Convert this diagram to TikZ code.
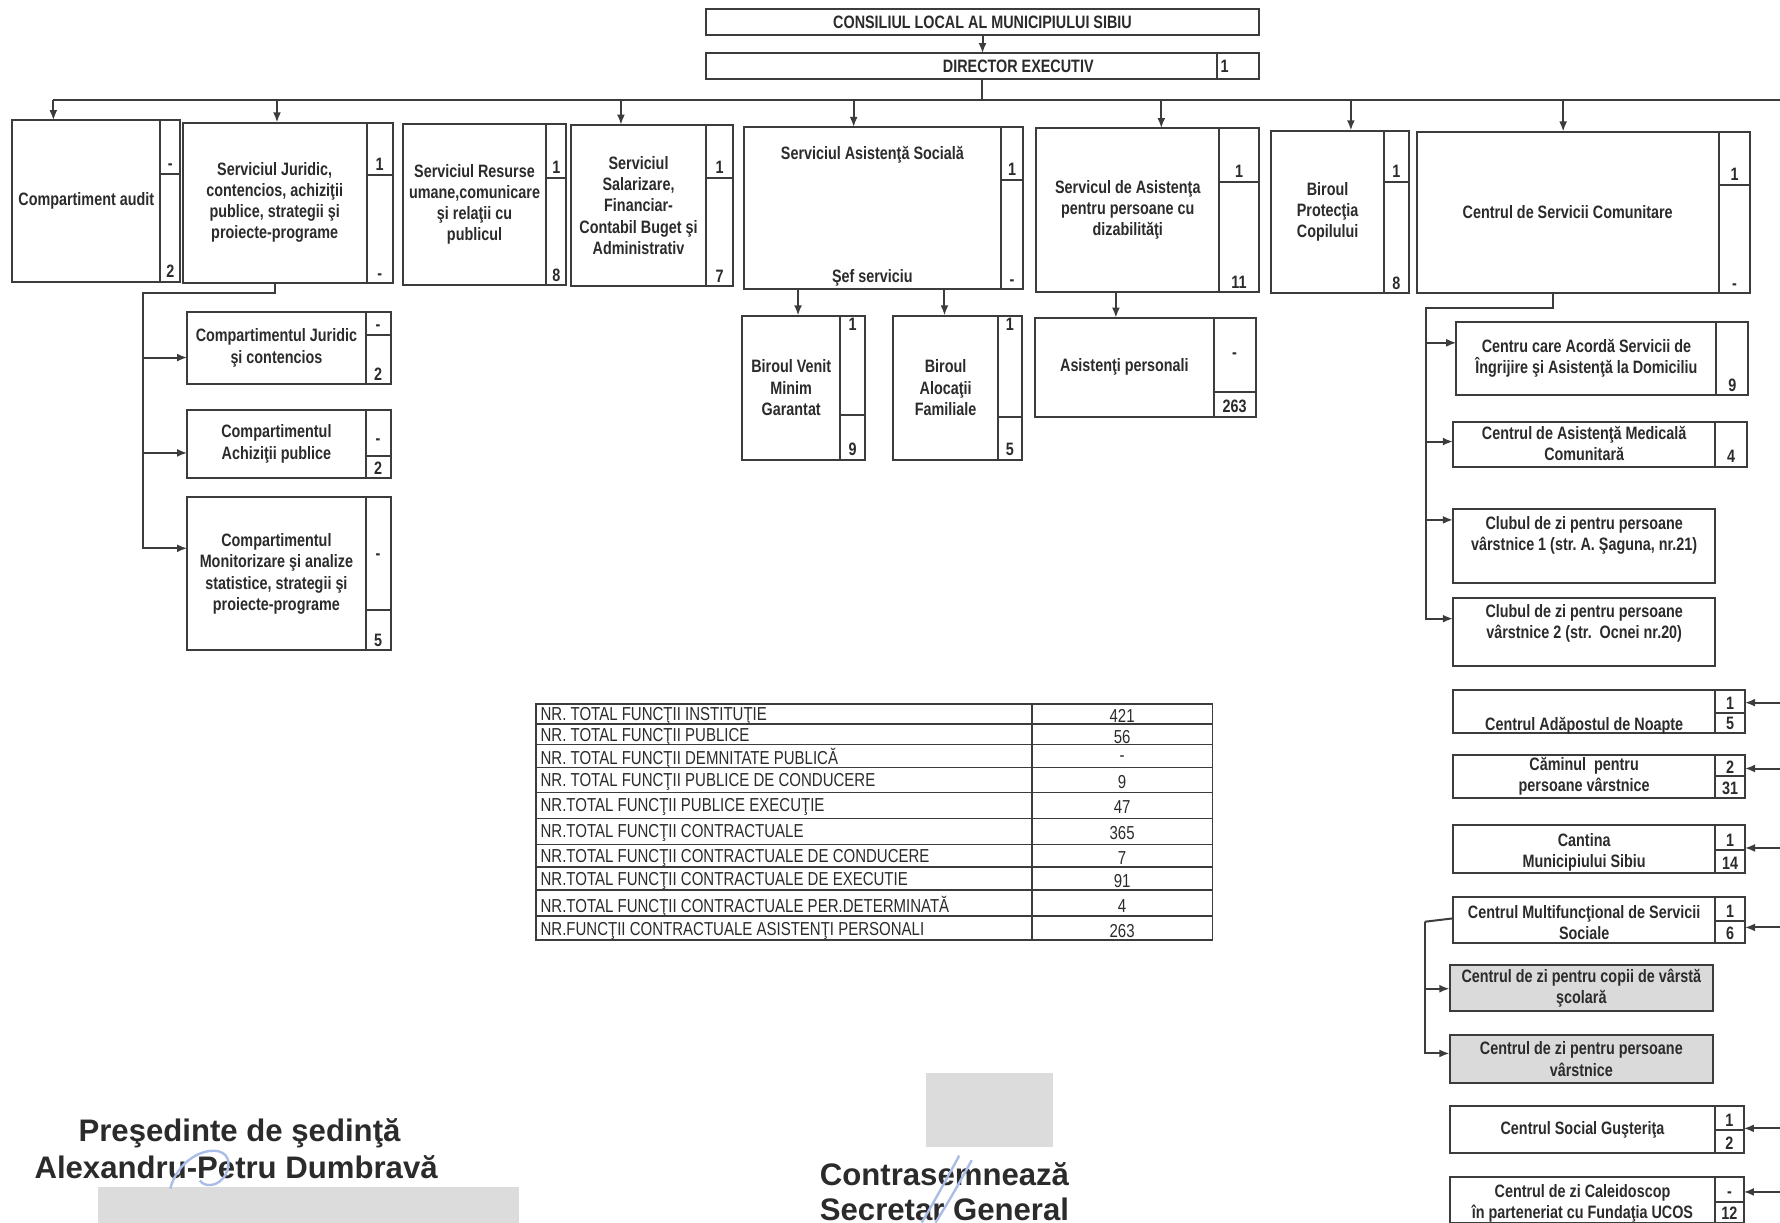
\documentclass[tikz,border=0pt]{standalone}
\usepackage{fontspec}
\setmainfont{Liberation Sans}
\newfontfamily\etroit{Liberation Sans}[FakeStretch=0.8]
\usetikzlibrary{arrows.meta,fit}
\definecolor{encre}{HTML}{2B2B2B}
\definecolor{gristrait}{HTML}{3C3C3C}
\definecolor{masque}{HTML}{DCDCDC}
\definecolor{ombre}{HTML}{DADADA}
\definecolor{stylo}{HTML}{A9BDE6}
\frenchspacing

\begin{document}
\begin{tikzpicture}[x=0.01cm, y=-0.01cm,
    texte/.style={inner sep=0pt, outer sep=0pt, align=center, text=encre, font=\etroit\bfseries\fontsize{4.5}{5.3}\selectfont},
    boite/.style={draw=gristrait, line width=0.5pt, inner sep=0pt, outer sep=0pt},
    nombre/.style={inner sep=0.7pt, text=encre, font=\etroit\bfseries\fontsize{4.5}{5.3}\selectfont},
    tabtexte/.style={inner sep=1pt, text=encre, font=\etroit\fontsize{4.7}{5.3}\selectfont},
    signature/.style={inner sep=0pt, text=encre, font=\bfseries\fontsize{7.8}{9}\selectfont},
    ligne/.style={draw=gristrait, line width=0.5pt},
    fleche/.style={ligne, -{Latex[length=0.9mm,width=0.7mm]}}]
    \useasboundingbox (0,0) rectangle (1568,1077);

    % Consiliul local et directeur executiv
    \node[boite, fit={(622,8) (1109,31)}] (cons) {};
    \node[texte] (consT) at (cons) {CONSILIUL LOCAL AL MUNICIPIULUI SIBIU};
    \node[boite, fit={(622,47) (1072,70)}] (dir) {};
    \node[texte] (dirT) at (897,58.5) {DIRECTOR EXECUTIV};
    \node[boite, fit={(1072,47) (1109,70)}] (dirN) {};
    \node[nombre, anchor=west] (dirN-sus) at (dirN.west) {1};
    \draw[fleche] (cons.south) -- (cons.south |- dir.north);

    % Ligne de distribution
    \coordinate (busC) at (865,88);
    \coordinate (busG) at (47,88);
    \coordinate (busD) at (1568,88);
    \draw[ligne] (dir.south -| busC) -- (busC);
    \draw[ligne] (busG) -- (busD);

    % Premiere rangee de services
    \node[boite, fit={(11,106) (141,248)}] (audit) {};
    \node[texte] (auditT) at (audit) {Compartiment audit};
    \node[boite, fit={(141,106) (159,248)}] (auditN) {};
    \node[boite, fit={(161,108) (323,249)}] (jur) {};
    \node[texte] (jurT) at (jur) {Serviciul Juridic,\\contencios, achiziţii\\publice, strategii şi\\proiecte-programe};
    \node[boite, fit={(323,108) (346,249)}] (jurN) {};
    \node[boite, fit={(355,109) (481,251)}] (res) {};
    \node[texte] (resT) at (res) {Serviciul Resurse\\umane,comunicare\\şi relaţii cu\\publicul};
    \node[boite, fit={(481,109) (499,251)}] (resN) {};
    \node[boite, fit={(503,110) (622,252)}] (sal) {};
    \node[texte] (salT) at (sal) {Serviciul\\Salarizare,\\Financiar-\\Contabil Buget şi\\Administrativ};
    \node[boite, fit={(622,110) (646,252)}] (salN) {};
    \node[boite, fit={(655,112) (882,255)}] (ass) {};
    \node[texte] (assT) at (ass.center |- 0,136) {Serviciul Asistenţă Socială};
    \node[texte] (assS) at (ass.center |- 0,245) {Şef serviciu};
    \node[boite, fit={(882,112) (901,255)}] (assN) {};
    \node[boite, fit={(913,113) (1074,257)}] (diz) {};
    \node[texte] (dizT) at (diz) {Servicul de Asistenţa\\pentru persoane cu\\dizabilităţi};
    \node[boite, fit={(1074,113) (1109,257)}] (dizN) {};
    \node[boite, fit={(1120,115) (1219,258)}] (prot) {};
    \node[texte] (protT) at (prot) {Biroul\\Protecţia\\Copilului};
    \node[boite, fit={(1219,115) (1241,258)}] (protN) {};
    \node[boite, fit={(1248,116) (1514,258)}] (csc) {};
    \node[texte] (cscT) at (csc) {Centrul de Servicii Comunitare};
    \node[boite, fit={(1514,116) (1542,258)}] (cscN) {};
    \foreach \x/\n in {47/audit, 244/jur, 547/sal, 752/ass, 1023/diz, 1190/prot, 1377/csc}
        \draw[fleche] (\x,88) -- (\x,88 |- \n.north);

    % Compartimente du serviciul juridic
    \node[boite, fit={(165,275) (322,338)}] (jur1) {};
    \node[texte] (jur1T) at (jur1) {Compartimentul Juridic\\şi contencios};
    \node[boite, fit={(322,275) (344,338)}] (jur1N) {};
    \node[boite, fit={(165,361) (322,421)}] (jur2) {};
    \node[texte] (jur2T) at (jur2) {Compartimentul\\Achiziţii publice};
    \node[boite, fit={(322,361) (344,421)}] (jur2N) {};
    \node[boite, fit={(165,438) (322,573)}] (jur3) {};
    \node[texte] (jur3T) at (jur3) {Compartimentul\\Monitorizare şi analize\\statistice, strategii şi\\proiecte-programe};
    \node[boite, fit={(322,438) (344,573)}] (jur3N) {};
    \coordinate (jurB) at (126,258);
    \draw[fleche] (jur.south) |- (jurB) |- (jur1.west |- 0,315);
    \foreach \y/\n in {399/jur2, 483/jur3}
        \draw[fleche] (jurB) |- (\n.west |- 0,\y);

    % Birouri de la asistenta sociala et asistenti personali
    \node[boite, fit={(654,278) (740,405)}] (venit) {};
    \node[texte] (venitT) at (venit) {Biroul Venit\\Minim\\Garantat};
    \node[boite, fit={(740,278) (762,405)}] (venitN) {};
    \node[boite, fit={(787,278) (879,405)}] (aloc) {};
    \node[texte] (alocT) at (aloc) {Biroul\\Alocaţii\\Familiale};
    \node[boite, fit={(879,278) (900,405)}] (alocN) {};
    \node[boite, fit={(912,280) (1069,367)}] (asp) {};
    \node[texte] (aspT) at (asp) {Asistenţi personali};
    \node[boite, fit={(1069,280) (1106,367)}] (aspN) {};
    \draw[fleche] (ass.south -| 703,0) -- (venit.north -| 703,0);
    \draw[fleche] (ass.south -| 832,0) -- (aloc.north -| 832,0);
    \draw[fleche] (diz.south -| 983,0) -- (asp.north -| 983,0);

    % Centre du serviciul comunitar
    \node[boite, fit={(1283,284) (1512,348)}] (care) {};
    \node[texte] (careT) at (care) {Centru care Acordă Servicii de\\Îngrijire şi Asistenţă la Domiciliu};
    \node[boite, fit={(1512,284) (1540,348)}] (careN) {};
    \node[nombre, anchor=south] (careN-jos) at (careN.south) {9};
    \node[boite, fit={(1280,372) (1511,411)}] (med) {};
    \node[texte] (medT) at (med.center |- 0,391) {Centrul de Asistenţă Medicală\\Comunitară};
    \node[boite, fit={(1511,372) (1539,411)}] (medN) {};
    \node[nombre, anchor=south] (medN-jos) at (medN.south) {4};
    \node[boite, fit={(1280,448) (1511,514)}] (club1) {};
    \node[texte] (club1T) at (club1.center |- 0,472) {Clubul de zi pentru persoane\\vârstnice 1 (str. A. Şaguna, nr.21)};
    \node[boite, fit={(1280,527) (1511,587)}] (club2) {};
    \node[texte] (club2T) at (club2.center |- 0,549) {Clubul de zi pentru persoane\\vârstnice 2 (str.\ \ Ocnei nr.20)};
    \coordinate (cscB) at (1256,271);
    \draw[fleche] (csc.south -| 1368,0) |- (cscB) |- (care.west |- 0,302);
    \foreach \y/\n in {389/med, 458/club1, 545/club2}
        \draw[fleche] (cscB) |- (\n.west |- 0,\y);

    % Colonne de droite
    \node[boite, fit={(1280,608) (1511,646)}] (adap) {};
    \node[texte] (adapT) at (adap.center |- 0,639) {Centrul Adăpostul de Noapte};
    \node[boite, fit={(1511,608) (1537,646)}] (adapN) {};
    \node[boite, fit={(1280,665) (1511,703)}] (cam) {};
    \node[texte] (camT) at (cam) {Căminul\ \ pentru\\persoane vârstnice};
    \node[boite, fit={(1511,665) (1537,703)}] (camN) {};
    \node[boite, fit={(1280,727) (1511,769)}] (cant) {};
    \node[texte] (cantT) at (cant.center |- 0,751) {Cantina\\Municipiului Sibiu};
    \node[boite, fit={(1511,727) (1537,769)}] (cantN) {};
    \node[boite, fit={(1280,790) (1511,831)}] (mult) {};
    \node[texte] (multT) at (mult.center |- 0,813) {Centrul Multifuncţional de Servicii\\Sociale};
    \node[boite, fit={(1511,790) (1537,831)}] (multN) {};
    \node[boite, fill=ombre, fit={(1277,850) (1509,891)}] (copii) {};
    \node[texte] (copiiT) at (copii) {Centrul de zi pentru copii de vârstă\\şcolară};
    \node[boite, fill=ombre, fit={(1277,912) (1509,954)}] (pers) {};
    \node[texte] (persT) at (pers) {Centrul de zi pentru persoane\\vârstnice};
    \node[boite, fit={(1277,974) (1511,1016)}] (gus) {};
    \node[texte] (gusT) at (gus) {Centrul Social Guşteriţa};
    \node[boite, fit={(1511,974) (1536,1016)}] (gusN) {};
    \node[boite, fit={(1277,1037) (1511,1077)}] (cal) {};
    \node[texte] (calT) at (cal.center |- 0,1060) {Centrul de zi Caleidoscop\\în parteneriat cu Fundaţia UCOS};
    \node[boite, fit={(1511,1037) (1536,1077)}] (calN) {};
    \coordinate (bord) at (1568,0);
    \foreach \y/\n in {619/adapN, 677/camN, 747/cantN, 817/multN, 994/gusN, 1050/calN}
        \draw[fleche] (bord |- 0,\y) -- (\n.east |- 0,\y);
    \coordinate (multB) at (1255,812);
    \draw[ligne] (mult.west |- 0,809) -- (multB);
    \draw[fleche] (multB) |- (copii.west |- 0,871);
    \draw[fleche] (multB) |- (pers.west |- 0,928);

    % Nombres de posturi
    \foreach \n/\d/\yh/\h/\b in {auditN/153/149/-/2, jurN/154/150/1/-, resN/157/153/1/8, salN/157/153/1/7,
        assN/159/155/1/-, dizN/160/156/1/11, protN/160/156/1/8, cscN/163/159/1/-,
        jur1N/295/291/-/2, jur2N/402/392/-/2, jur3N/537/493/-/5, venitN/366/291/1/9, alocN/367/291/1/5,
        aspN/345/316/-/263, adapN/628/625/1/5, camN/684/681/2/31, cantN/749/746/1/14, multN/811/808/1/6,
        gusN/995/992/1/2, calN/1059/1055/-/12}{
        \draw[ligne] (\n.west |- 0,\d) -- (\n.east |- 0,\d);
        \node[nombre, anchor=base] (\n-sus) at (\n.center |- 0,\yh) {\h};
        \node[nombre, anchor=south] (\n-jos) at (\n.south) {\b};
    }

    % Tableau des totaux
    \node[boite, line width=0.4pt, fit={(472,620) (909,828)}] (tabG) {};
    \node[boite, line width=0.4pt, fit={(909,620) (1068,828)}] (tabD) {};
    \foreach \y in {638,656,676,698,721,744,764,784,807}
        \draw[ligne, line width=0.4pt] (tabG.west |- 0,\y) -- (tabD.east |- 0,\y);
    \foreach \y/\lib/\val in {631/NR. TOTAL FUNCŢII INSTITUŢIE/421, 649/NR. TOTAL FUNCŢII PUBLICE/56,
        668/NR. TOTAL FUNCŢII DEMNITATE PUBLICĂ/-, 689/NR. TOTAL FUNCŢII PUBLICE DE CONDUCERE/9,
        711/NR.TOTAL FUNCŢII PUBLICE EXECUŢIE/47, 734/NR.TOTAL FUNCŢII CONTRACTUALE/365,
        756/NR.TOTAL FUNCŢII CONTRACTUALE DE CONDUCERE/7, 776/NR.TOTAL FUNCŢII CONTRACTUALE DE EXECUTIE/91,
        798/NR.TOTAL FUNCŢII CONTRACTUALE PER.DETERMINATĂ/4, 820/NR.FUNCŢII CONTRACTUALE ASISTENŢI PERSONALI/263}{
        \node[tabtexte, anchor=west] (lib\y) at (tabG.west |- 0,\y) {\lib};
        \node[tabtexte] (val\y) at (tabD.center |- 0,\y) {\val};
    }

    % Signatures
    \fill[masque] (816,945) rectangle (928,1010);
    \fill[masque] (86,1046) rectangle (457,1090);
    \node[signature] (pres) at (211,998) {Preşedinte de şedinţă};
    \node[signature] (nume) at (208,1028) {Alexandru-Petru Dumbravă};
    \node[signature] (contra) at (832,1034) {Contrasemnează};
    \node[signature] (secr) at (832,1065) {Secretar General};
    \draw[stylo, line width=0.6pt] (150,1047) .. controls (160,1010) and (205,1004) .. (201,1028) .. controls (198,1044) and (182,1048) .. (176,1040);
    \draw[stylo, line width=0.6pt] (845,1018) .. controls (832,1042) and (822,1060) .. (812,1077);
    \draw[stylo, line width=0.6pt] (856,1022) .. controls (843,1046) and (833,1063) .. (824,1077);
\end{tikzpicture}
\end{document}
